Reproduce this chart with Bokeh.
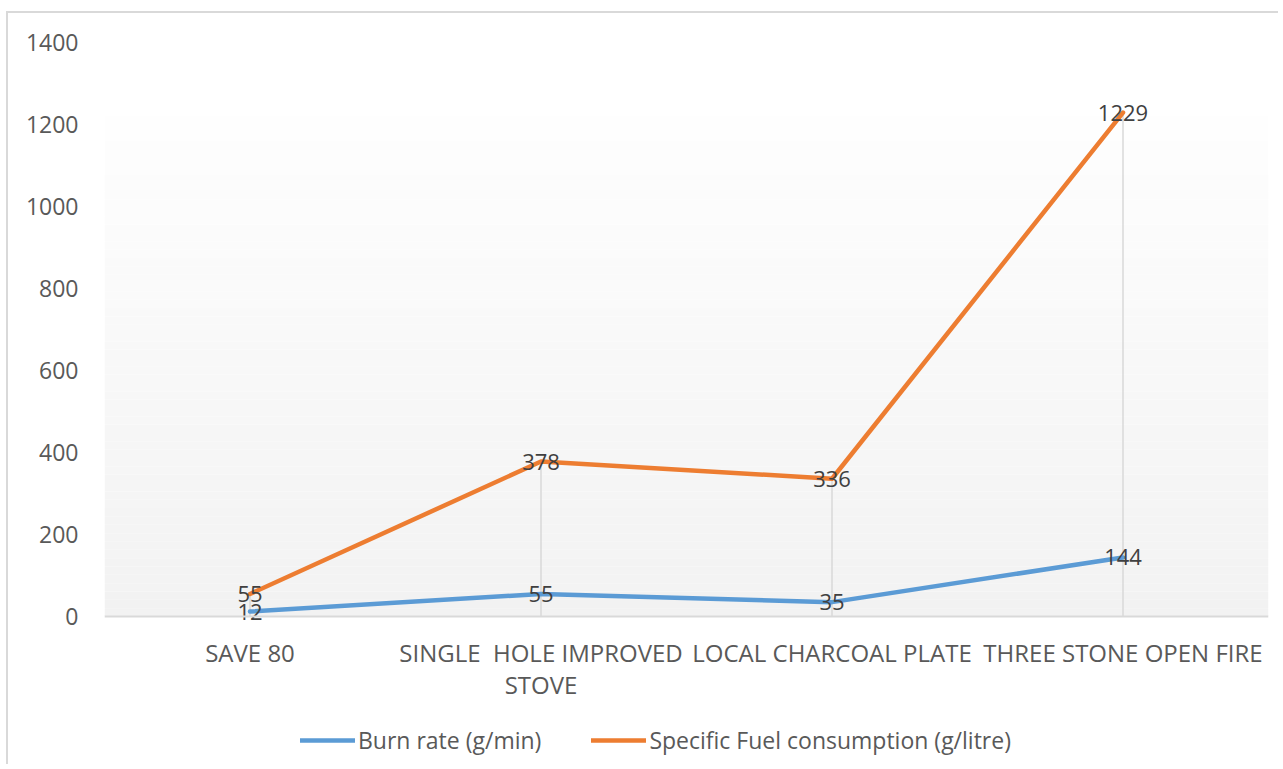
from bokeh.plotting import figure
from bokeh.models import (Range1d, BoxAnnotation, Legend, LegendItem, Span,
                          ColumnDataSource, FixedTicker)
from bokeh.core.properties import value
from bokeh.embed import file_html
from bokeh.resources import INLINE

categories = ["SAVE 80", "SINGLE  HOLE IMPROVED STOVE", "LOCAL CHARCOAL PLATE", "THREE STONE OPEN FIRE"]
label_line1 = ["SAVE 80", "SINGLE \u00a0HOLE IMPROVED", "LOCAL CHARCOAL PLATE", "THREE STONE OPEN FIRE"]
label_line2 = ["", "STOVE", "", ""]
burn_rate = [12, 55, 35, 144]
fuel_consumption = [55, 378, 336, 1229]
series_names = ["Burn rate (g/min)", "Specific Fuel consumption (g/litre)"]
y_ticks = [0, 200, 400, 600, 800, 1000, 1200, 1400]
y_max = 1400

FONT = "Open Sans"
BLUE = "#5b9bd5"
ORANGE = "#ed7d31"
W, H = 1272, 753
TOP, LEFT, RIGHT = 29, 96, 12
PLOT_PX = 574                      # pixel height of the 0..1400 value span
frame_px = H - TOP
y_min = y_max - frame_px * y_max / PLOT_PX   # frame extends below 0 for labels and legend

xs = [i + 0.5 for i in range(len(categories))]  # category band centres

p = figure(width=W, height=H, x_range=Range1d(0, len(categories)), y_range=Range1d(y_min, y_max),
           output_backend="svg", toolbar_location=None,
           min_border_left=LEFT, min_border_right=RIGHT, min_border_top=TOP, min_border_bottom=0)
p.styles = {"border-left": "2px solid #d9d9d9", "border-top": "2px solid #d9d9d9",
            "margin-left": "6px", "margin-top": "11px"}
p.background_fill_color = "white"
p.border_fill_color = "white"
p.outline_line_color = None
p.xgrid.grid_line_color = None
p.ygrid.grid_line_color = None
p.xaxis.visible = False

# plot-area gradient (white at top to light grey at bottom)
grad_top = 1220
n = 60
for i in range(n):
    b = grad_top * i / n
    t = grad_top * (i + 1) / n
    frac = (i + 0.5) / n
    c = int(round(242 + (254 - 242) * frac))
    p.add_layout(BoxAnnotation(bottom=b, top=t, fill_color=f"#{c:02x}{c:02x}{c:02x}",
                               fill_alpha=1, line_color=None, level="underlay"))

# horizontal category axis line
p.add_layout(Span(location=0, dimension="width", line_color="#d9d9d9", line_width=2))

# y axis
p.yaxis.ticker = FixedTicker(ticks=y_ticks, minor_ticks=[])
p.yaxis.axis_line_color = None
p.yaxis.major_tick_line_color = None
p.yaxis.minor_tick_line_color = None
p.yaxis.major_tick_out = 0
p.yaxis.major_tick_in = 0
p.yaxis.major_label_standoff = 26
p.yaxis.major_label_text_font = FONT
p.yaxis.major_label_text_font_size = "23px"
p.yaxis.major_label_text_color = "#595959"

src = ColumnDataSource(dict(x=xs, burn=burn_rate, fuel=fuel_consumption,
                            top=[max(a, b) for a, b in zip(burn_rate, fuel_consumption)],
                            zero=[0] * len(categories),
                            burn_lbl=[str(v) for v in burn_rate],
                            fuel_lbl=[str(v) for v in fuel_consumption],
                            l1=label_line1, l2=label_line2))

# category labels (two lines)
p.text(x="x", y="zero", text="l1", source=src, y_offset=36, text_align="center", text_baseline="middle",
       text_font=value(FONT), text_font_size="24px", text_color="#595959")
p.text(x="x", y="zero", text="l2", source=src, y_offset=68, text_align="center", text_baseline="middle",
       text_font=value(FONT), text_font_size="24px", text_color="#595959")

# drop lines
p.segment(x0="x", y0="zero", x1="x", y1="top", source=src, line_color="#d9d9d9", line_width=1.5)

r1 = p.line("x", "burn", source=src, line_color=BLUE, line_width=4.5, line_cap="round", line_join="round")
r2 = p.line("x", "fuel", source=src, line_color=ORANGE, line_width=4.5, line_cap="round", line_join="round")

for col, ycol in [("burn_lbl", "burn"), ("fuel_lbl", "fuel")]:
    p.text(x="x", y=ycol, text=col, source=src, text_align="center", text_baseline="middle",
           text_font=value(FONT), text_font_size="22px", text_color="#404040")

legend = Legend(items=[LegendItem(label=series_names[0], renderers=[r1]),
                       LegendItem(label=series_names[1], renderers=[r2])],
                orientation="horizontal", location=(196, 10),
                glyph_width=55, glyph_height=20, label_standoff=3, spacing=50,
                padding=0, margin=0, border_line_color=None, background_fill_alpha=0,
                label_text_font=FONT, label_text_font_size="23px", label_text_color="#595959")
p.add_layout(legend)

open("out.html", "w").write(file_html(p, INLINE))
